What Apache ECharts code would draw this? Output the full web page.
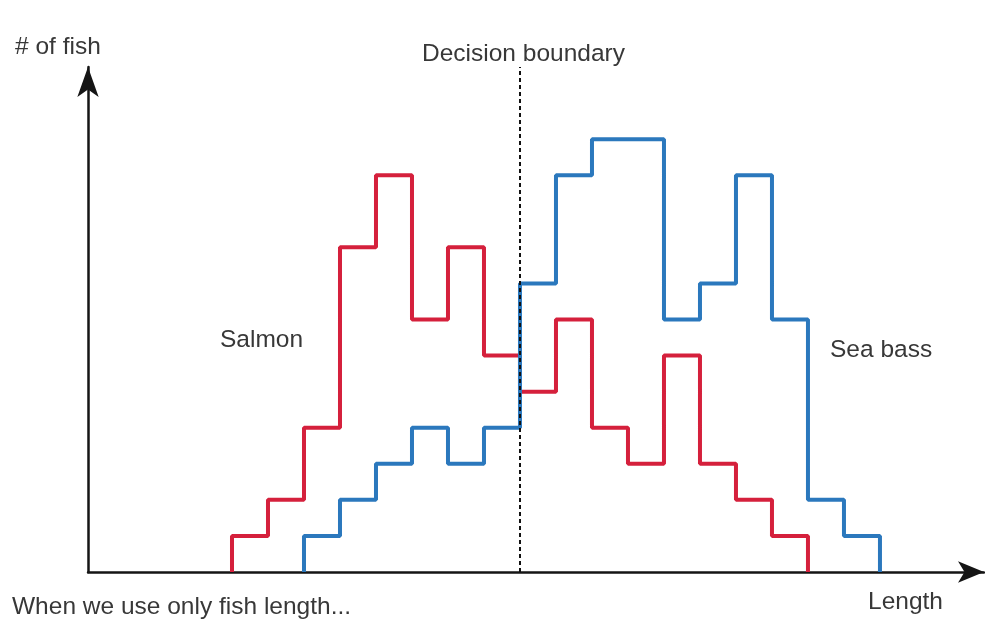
<!DOCTYPE html>
<html>
<head>
<meta charset="utf-8">
<script src="https://cdn.jsdelivr.net/npm/echarts@6/dist/echarts.min.js"></script>
<style>
  html, body { margin: 0; padding: 0; background: #fff; }
  #chart { width: 985px; height: 623px; }
</style>
</head>
<body>
<div id="chart"></div>
<script>
// histogram counts per length bin (bin width = 1)
const salmonStart = 4
const salmonCounts = [1, 2, 4, 9, 11, 7, 9, 6, 5, 7, 4, 3, 6, 3, 2, 1]
const seaBassStart = 6
const seaBassCounts = [1, 2, 3, 4, 3, 4, 8, 11, 12, 12, 7, 8, 11, 7, 2, 1]
const boundary = 12

// turn counts into step-line points, closing at the baseline
function toSteps(start, counts) {
  const pts = [[start, 0]]
  counts.forEach((c, i) => pts.push([start + i, c]))
  pts.push([start + counts.length, 0])
  return pts
}

const chart = echarts.init(document.getElementById('chart'))
const font = '24.5px "Liberation Sans", Arial, sans-serif'

function label(text, left, top) {
  return { type: 'text', left: left, top: top, style: { text: text, font: font, fill: '#383838' } }
}

const option = {
  backgroundColor: '#fff',
  animation: false,
  grid: { left: 88, right: 1, top: 67, bottom: 51 },
  xAxis: {
    type: 'value',
    min: 0,
    max: 24.89,
    axisLine: {
      show: true,
      lineStyle: { color: '#151515', width: 2.5 },
      symbol: ['none', 'arrow'],
      symbolSize: [16, 26]
    },
    axisTick: { show: false },
    axisLabel: { show: false },
    splitLine: { show: false }
  },
  yAxis: {
    type: 'value',
    min: 0,
    max: 14,
    axisLine: {
      show: true,
      lineStyle: { color: '#151515', width: 2.5 },
      symbol: ['none', 'arrow'],
      symbolSize: [16, 30]
    },
    axisTick: { show: false },
    axisLabel: { show: false },
    splitLine: { show: false }
  },
  series: [
    {
      name: 'Salmon',
      type: 'line',
      step: 'end',
      showSymbol: false,
      data: toSteps(salmonStart, salmonCounts),
      lineStyle: { color: '#d5203c', width: 4 },
      z: 3
    },
    {
      name: 'Sea bass',
      type: 'line',
      step: 'end',
      showSymbol: false,
      data: toSteps(seaBassStart, seaBassCounts),
      lineStyle: { color: '#2b78bd', width: 4 },
      z: 4,
      markLine: {
        silent: true,
        symbol: 'none',
        label: { show: false },
        lineStyle: { color: '#111', width: 2, type: [4, 3] },
        data: [{ xAxis: boundary }]
      }
    }
  ],
  graphic: [
    label('# of fish', 15, 34.5),
    label('Decision boundary', 422, 41.5),
    label('Salmon', 220, 328),
    label('Sea bass', 830, 337.5),
    label('When we use only fish length...', 12, 594.5),
    label('Length', 868, 589.5)
  ]
}

chart.setOption(option)
</script>
</body>
</html>
